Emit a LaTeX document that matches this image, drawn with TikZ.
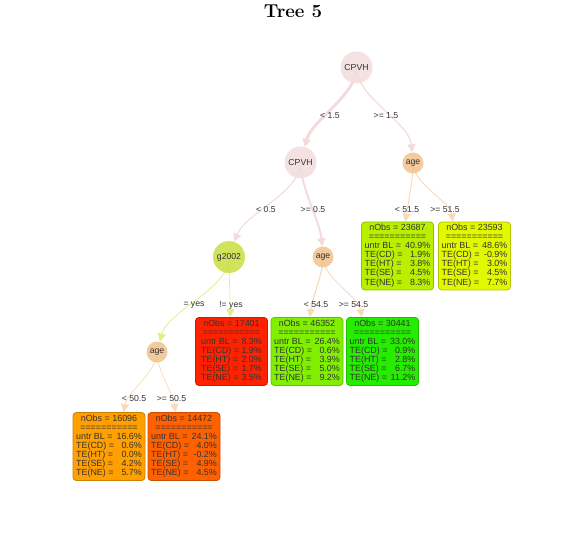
\documentclass[tikz,border=0pt]{standalone}
\usepackage{fontspec}
\setsansfont{Liberation Sans}
\usetikzlibrary{arrows.meta, shapes, positioning}
\usepackage{xcolor}
\definecolor{palepink}{RGB}{242,221,221}
\definecolor{pinkedge}{RGB}{244,218,218}
\definecolor{peach}{RGB}{240,194,142}
\definecolor{peachedge}{RGB}{249,218,182}
\definecolor{lime}{RGB}{201,222,62}
\definecolor{limeedge}{RGB}{224,238,138}
\definecolor{textgray}{RGB}{51,51,51}
\definecolor{leafa}{RGB}{186,240,0}
\definecolor{leafb}{RGB}{226,248,0}
\definecolor{leafc}{RGB}{255,34,0}
\definecolor{leafd}{RGB}{128,240,0}
\definecolor{leafe}{RGB}{38,236,0}
\definecolor{leaff}{RGB}{255,160,0}
\definecolor{leafg}{RGB}{255,96,0}
\pgfdeclarelayer{background}
\pgfsetlayers{background,main}
\tikzset{bigpinknode/.style={circle, fill=palepink, fill opacity=0.85, text opacity=1, minimum size=24pt, inner sep=0pt},
smallpeachnode/.style={circle, fill=peach, fill opacity=0.85, text opacity=1, minimum size=15.75pt, inner sep=0pt},
biglimenode/.style={circle, fill=lime, fill opacity=0.85, text opacity=1, minimum size=24pt, inner sep=0pt}}
\tikzset{leafnode/.style={rectangle, rounded corners=2.5pt, fill=#1, draw=#1!80!black, line width=0.6pt, minimum width=54pt, minimum height=51pt, inner sep=0pt},
branchtip/.style={-{Triangle[length=6pt, width=6pt]}, out=-90, in=90, looseness=0.75}}
\newcommand{\leaftext}[6]{%
    \begin{tabular}{@{}l@{ }r@{}}
        \multicolumn{2}{@{}c@{}}{nObs = #1}\\
        \multicolumn{2}{@{}c@{}}{===========}\\
        untr BL = & #2\%\\
        TE(CD) = & #3\%\\
        TE(HT) = & #4\%\\
        TE(SE) = & #5\%\\
        TE(NE) = & #6\%
    \end{tabular}}
\begin{document}
\begin{tikzpicture}[
        x=0.75pt, y=0.75pt,
        every node/.style={text=textgray, font=\sffamily\fontsize{6.5}{7}\selectfont},
        leafnode/.append style={font=\sffamily\fontsize{6.7}{6.7}\selectfont},
        splitlabel/.style={inner sep=0.5pt}
    ]
        \useasboundingbox (0, 0) rectangle (585, 536);
        % Title
        \node[text=black, font=\fontsize{14}{16}\selectfont\bfseries] (title) at (293, 524.5) {Tree 5};
        % Splits
        \node[bigpinknode] (root) at (356.5, 468.5) {CPVH};
        \node[bigpinknode] (cpvh) at (300.5, 373.5) {CPVH};
        \node[smallpeachnode] (ageright) at (413, 373) {age};
        \node[biglimenode] (gyes) at (229, 279) {g2002};
        \node[smallpeachnode] (agemid) at (323, 279) {age};
        \node[smallpeachnode] (ageleft) at (157, 184) {age};
        % Leaves
        \node[leafnode=leafa] (leafa) at (397.5, 280) {\leaftext{23687}{40.9}{1.9}{3.8}{4.5}{8.3}};
        \node[leafnode=leafb] (leafb) at (474.5, 280) {\leaftext{23593}{48.6}{-0.9}{3.0}{4.5}{7.7}};
        \node[leafnode=leafc] (leafc) at (231.5, 184.5) {\leaftext{17401}{8.3}{1.9}{2.0}{1.7}{3.5}};
        \node[leafnode=leafd] (leafd) at (307, 184.5) {\leaftext{46352}{26.4}{0.6}{3.9}{5.0}{9.2}};
        \node[leafnode=leafe] (leafe) at (382.5, 184.5) {\leaftext{30441}{33.0}{0.9}{2.8}{6.7}{11.2}};
        \node[leafnode=leaff] (leaff) at (109, 89.5) {\leaftext{16096}{16.6}{0.6}{0.0}{4.2}{5.7}};
        \node[leafnode=leafg] (leafg) at (184, 89.5) {\leaftext{14472}{24.1}{4.0}{-0.2}{4.9}{4.5}};
        % Split labels
        \node[splitlabel] (lroota) at (330, 420) {< 1.5};
        \node[splitlabel] (lrootb) at (386, 420) {>= 1.5};
        \node[splitlabel] (lcpvha) at (266, 326) {< 0.5};
        \node[splitlabel] (lcpvhb) at (313, 326) {>= 0.5};
        \node[splitlabel] (lagera) at (407, 326) {< 51.5};
        \node[splitlabel] (lagerb) at (445, 326) {>= 51.5};
        \node[splitlabel] (lgyesa) at (194, 231) {= yes};
        \node[splitlabel] (lgyesb) at (231, 231) {!= yes};
        \node[splitlabel] (lagema) at (316, 231) {< 54.5};
        \node[splitlabel] (lagemb) at (353.5, 231) {>= 54.5};
        \node[splitlabel] (lagela) at (134, 137) {< 50.5};
        \node[splitlabel] (lagelb) at (171.5, 137) {>= 50.5};
        % Branches
        \begin{pgfonlayer}{background}
            \draw[branchtip, pinkedge, line width=2.2pt, in=75] (root.center) to (cpvh);
            \draw[branchtip, pinkedge, line width=0.85pt, in=95] (root.center) to (ageright);
            \draw[branchtip, pinkedge, line width=0.85pt, in=70] (cpvh.center) to (gyes);
            \draw[branchtip, pinkedge, line width=1.4pt, in=95] (cpvh.center) to (agemid);
            \draw[branchtip, peachedge, line width=0.7pt, in=82] (ageright.center) to (leafa.77.6);
            \draw[branchtip, peachedge, line width=0.7pt, in=100] (ageright.center) to (leafb.122.3);
            \draw[branchtip, limeedge, line width=0.6pt, in=75] (gyes.center) to (ageleft);
            \draw[branchtip, limeedge, line width=0.5pt] (gyes.center) to (leafc.92.5);
            \draw[branchtip, peachedge, line width=0.85pt, in=85] (agemid.center) to (leafd.85);
            \draw[branchtip, peachedge, line width=0.6pt, in=100] (agemid.center) to (leafe.121);
            \draw[branchtip, peachedge, line width=0.5pt, in=80] (ageleft.center) to (leaff.67.6);
            \draw[branchtip, peachedge, line width=0.5pt, in=97] (ageleft.center) to (leafg.104.8);
        \end{pgfonlayer}
    \end{tikzpicture}
\end{document}
